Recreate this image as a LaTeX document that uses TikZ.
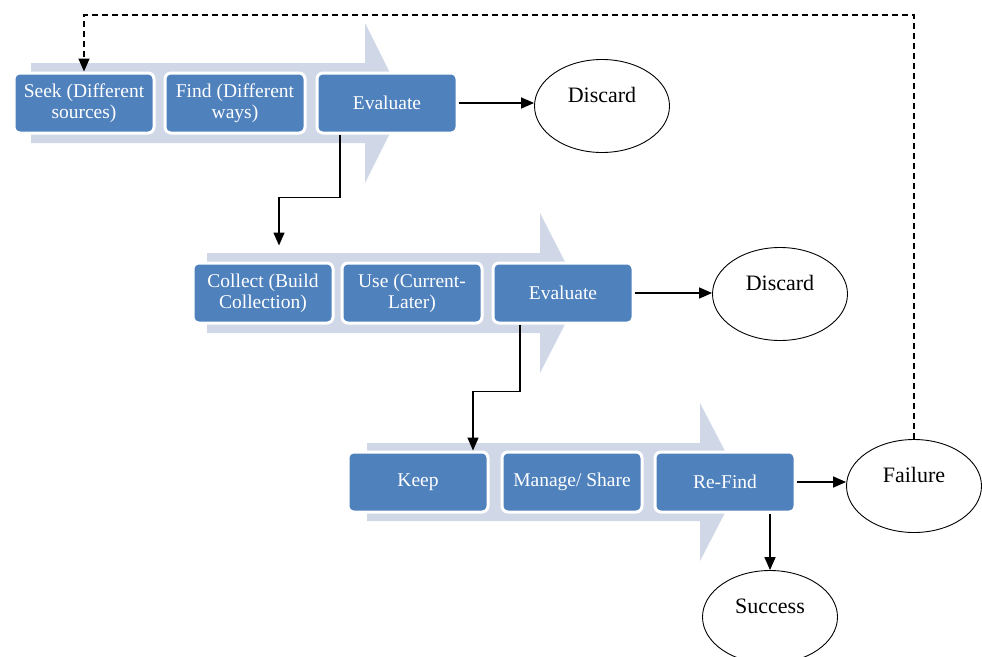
\documentclass[tikz,border=0pt]{standalone}
\usepackage{fontspec}
\setmainfont{Liberation Serif}
\usetikzlibrary{arrows.meta,shapes.geometric}
\definecolor{stepblue}{HTML}{4F81BD}
\definecolor{bandgray}{HTML}{D0D8E8}

\begin{document}
\begin{tikzpicture}[
    x=1pt, y=-1pt,
    stage/.style={draw=white, line width=3pt, fill=stepblue, rounded corners=6pt, minimum width=140pt, minimum height=60pt, inner sep=0pt, align=center, text=white, font=\fontsize{19.5}{21}\selectfont},
    outcome/.style={draw, line width=0.9pt, ellipse, minimum width=135pt, minimum height=93pt, inner sep=0pt, text height=15pt, text depth=22pt, font=\fontsize{22}{24}\selectfont},
    band/.style={fill=bandgray},
    link/.style={->, line width=1.5pt},
    >={Triangle[length=13pt,width=11pt]},
]
    \useasboundingbox (0,0) rectangle (982,656);

    \fill[band] (31,63) -- (365,63) -- (365,23) -- (405,103) -- (365,183) -- (365,143) -- (31,143) -- cycle;
    \fill[band] (207,253) -- (540,253) -- (540,213) -- (581,293) -- (540,373) -- (540,333) -- (207,333) -- cycle;
    \fill[band] (367,443) -- (700,443) -- (700,403) -- (741,482) -- (700,561) -- (700,521) -- (367,521) -- cycle;

    \node[stage] (seek) at (84,103) {Seek (Different\\sources)};
    \node[stage] (find) at (235,103) {Find (Different\\ways)};
    \node[stage] (evalA) at (387,103) {Evaluate};
    \node[outcome] (discardA) at (602,106) {Discard};

    \node[stage] (collect) at (263,293) {Collect (Build\\Collection)};
    \node[stage] (use) at (412,293) {Use (Current-\\Later)};
    \node[stage] (evalB) at (563,293) {Evaluate};
    \node[outcome] (discardB) at (780,294) {Discard};

    \node[stage] (keep) at (418,482) {Keep};
    \node[stage] (manage) at (572,482) {Manage/ Share};
    \node[stage] (refind) at (725,482) {Re-Find};
    \node[outcome] (failure) at (914,486) {Failure};
    \node[outcome] (success) at (770,617) {Success};

    \draw[link] (evalA.east) -- (evalA.east -| discardA.west);
    \draw[link, shorten >=16pt] ([xshift=-47pt]evalA.south) -- ++(0,63) -| ([xshift=16pt]collect.north);
    \draw[link] (evalB.east) -- (evalB.east -| discardB.west);
    \draw[link] ([xshift=-43pt]evalB.south) -- ++(0,67) -| ([xshift=55pt]keep.north);
    \draw[link] (refind.east) -- (refind.east -| failure.west);
    \draw[link] (refind.south -| success.north) -- (success.north);
    \draw[link, dash pattern=on 6pt off 4pt] (failure.north) -- ++(0,-424) -| (seek.north);
\end{tikzpicture}
\end{document}
